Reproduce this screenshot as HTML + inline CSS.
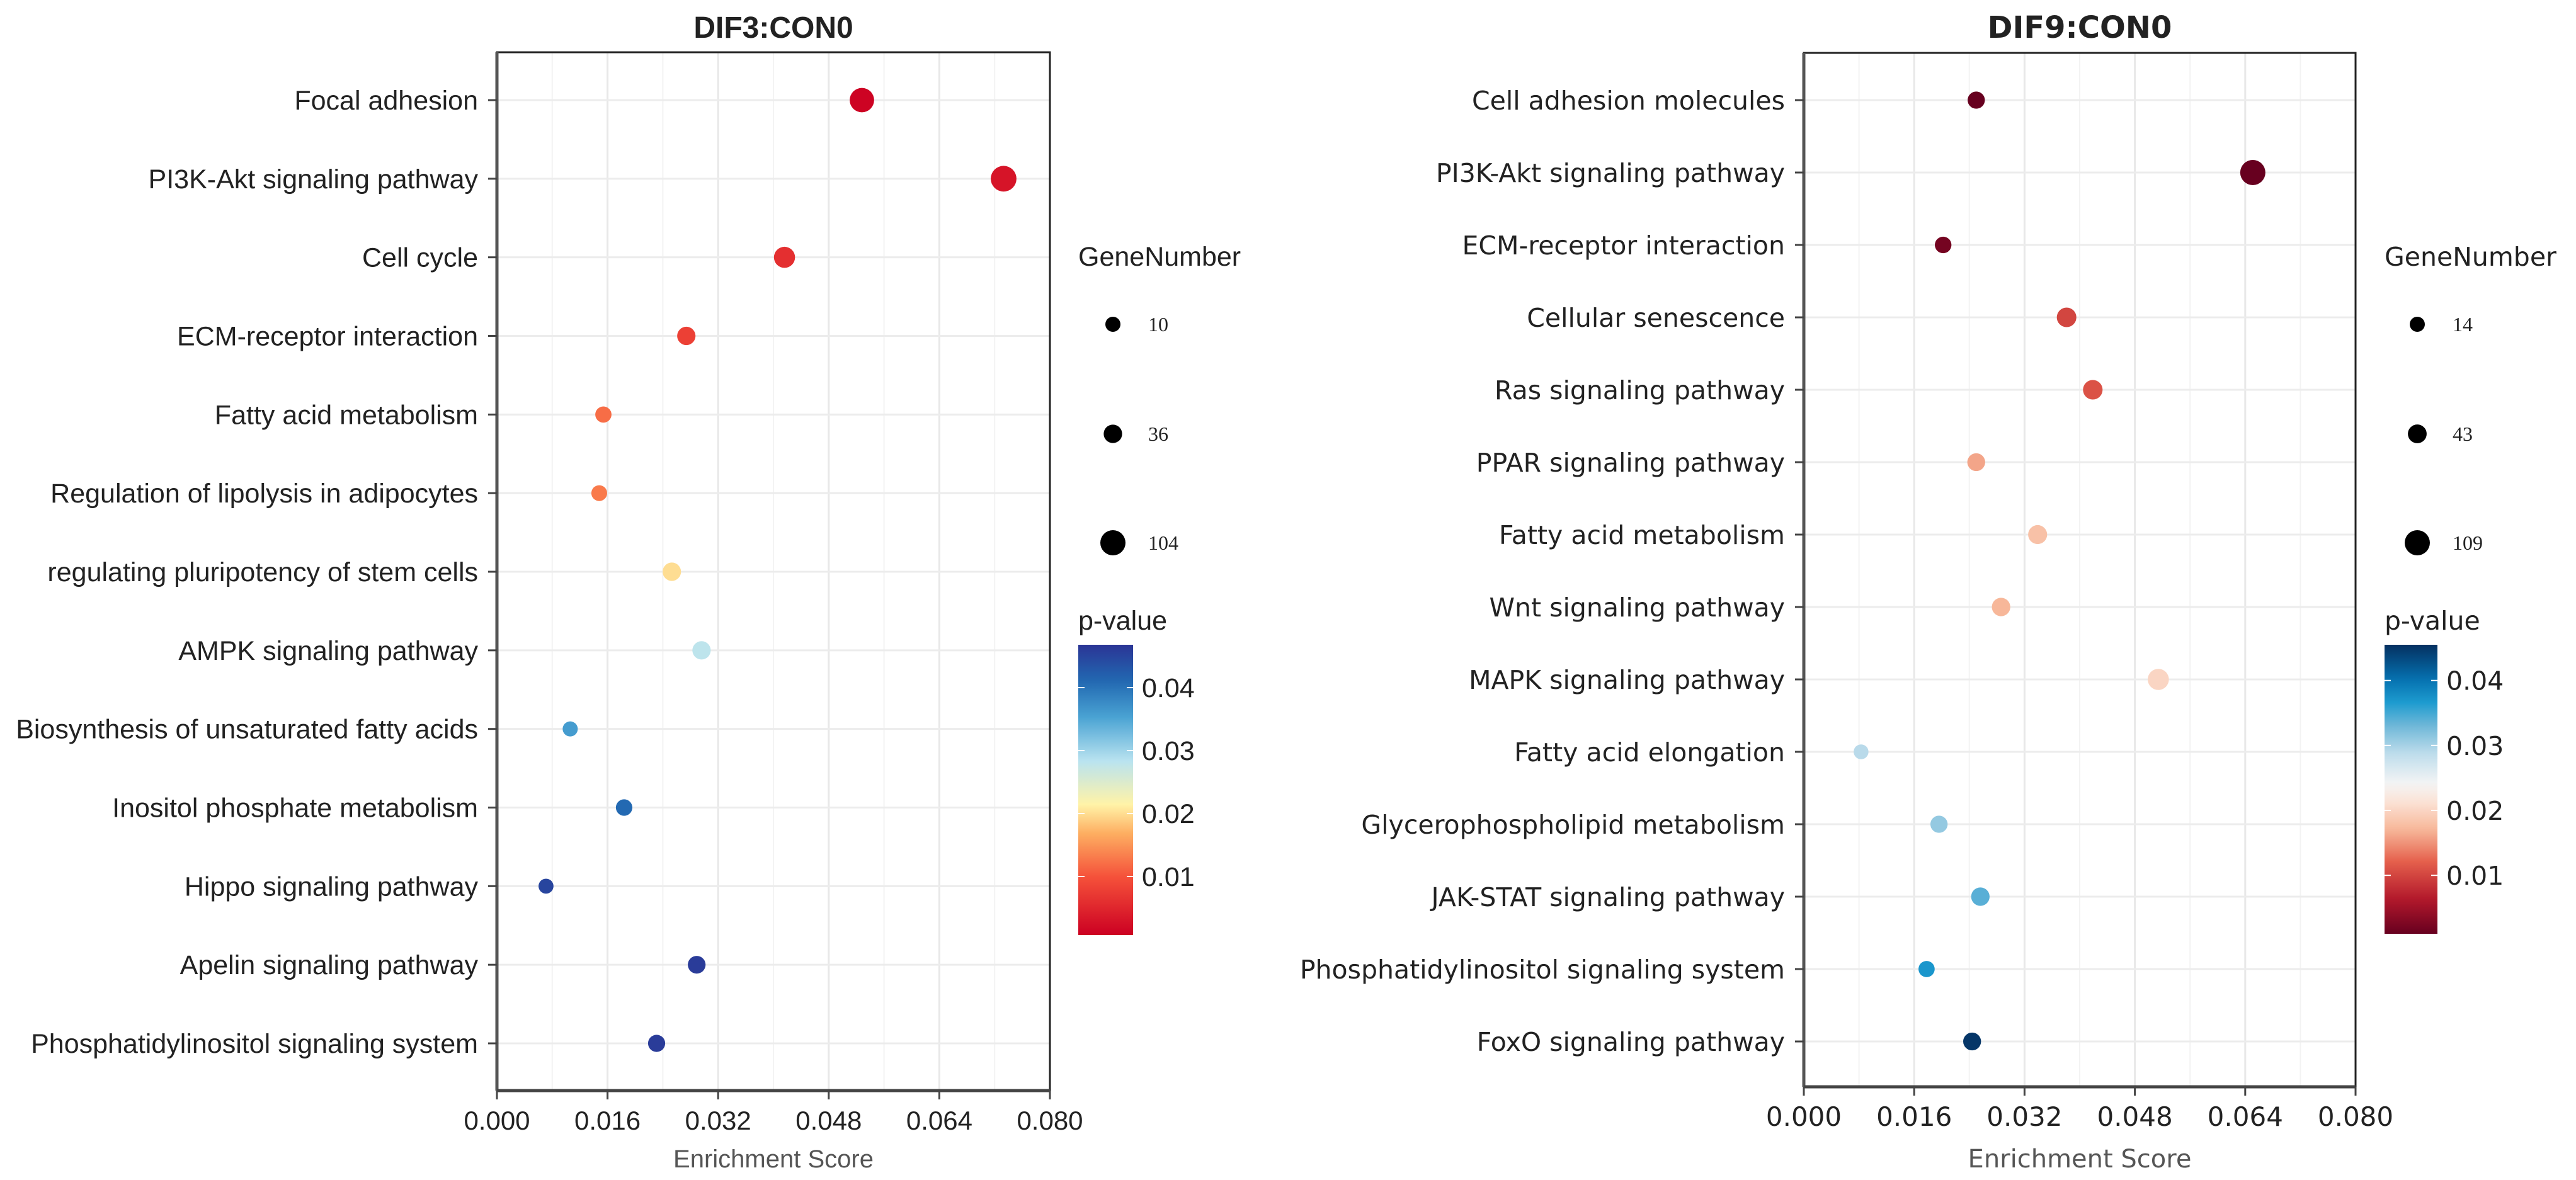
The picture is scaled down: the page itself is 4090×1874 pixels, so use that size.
<!DOCTYPE html>
<html><head><meta charset="utf-8"><style>
html,body{margin:0;padding:0;background:#fff;}
svg{display:block;}
</style></head><body>
<svg id="chart" width="4090" height="1874" viewBox="0 0 4090 1874" xmlns="http://www.w3.org/2000/svg"></svg>
<script>
// ---- Left panel data (DIF3:CON0) ----
const leftCategories = ["Focal adhesion","PI3K-Akt signaling pathway","Cell cycle","ECM-receptor interaction","Fatty acid metabolism","Regulation of lipolysis in adipocytes","regulating pluripotency of stem cells","AMPK signaling pathway","Biosynthesis of unsaturated fatty acids","Inositol phosphate metabolism","Hippo signaling pathway","Apelin signaling pathway","Phosphatidylinositol signaling system"];
const leftScores = [0.0528,0.0733,0.0416,0.0274,0.0154,0.0148,0.0253,0.0296,0.0106,0.0184,0.0071,0.0289,0.0231];
const leftGenes = [95,110,60,35,18,15,35,35,10,20,9,30,25];
const leftPvals = [0.001,0.003,0.006,0.008,0.012,0.013,0.020,0.028,0.036,0.041,0.045,0.046,0.046];
const leftSizeLegend = [10,36,104];
const leftPTicks = [0.01,0.02,0.03,0.04];
// ---- Right panel data (DIF9:CON0) ----
const rightCategories = ["Cell adhesion molecules","PI3K-Akt signaling pathway","ECM-receptor interaction","Cellular senescence","Ras signaling pathway","PPAR signaling pathway","Fatty acid metabolism","Wnt signaling pathway","MAPK signaling pathway","Fatty acid elongation","Glycerophospholipid metabolism","JAK-STAT signaling pathway","Phosphatidylinositol signaling system","FoxO signaling pathway"];
const rightScores = [0.0250,0.0651,0.0202,0.0381,0.0419,0.0250,0.0339,0.0286,0.0514,0.0083,0.0196,0.0256,0.0178,0.0244];
const rightGenes = [30,109,25,50,50,35,45,40,65,12,30,40,22,35];
const rightPvals = [0.001,0.001,0.002,0.010,0.011,0.016,0.018,0.017,0.020,0.029,0.031,0.034,0.037,0.045];
const rightSizeLegend = [14,43,109];
const rightPTicks = [0.01,0.02,0.03,0.04];
const xTicks = [0,0.016,0.032,0.048,0.064,0.08];
const xTickLabels = ["0.000","0.016","0.032","0.048","0.064","0.080"];

const NS="http://www.w3.org/2000/svg";
const svg=document.getElementById('chart');
function mk(tag,attrs,parent,text){const e=document.createElementNS(NS,tag);for(const k in attrs)e.setAttribute(k,attrs[k]);if(text!==undefined)e.textContent=text;(parent||svg).appendChild(e);return e;}
function hex(h){return [parseInt(h.substr(1,2),16),parseInt(h.substr(3,2),16),parseInt(h.substr(5,2),16)];}
function interp(stops,t){t=Math.max(0,Math.min(1,t));for(let i=0;i<stops.length-1;i++){if(t<=stops[i+1][0]){const f=(t-stops[i][0])/(stops[i+1][0]-stops[i][0]);const a=hex(stops[i][1]),b=hex(stops[i+1][1]);return 'rgb('+a.map((v,j)=>Math.round(v+(b[j]-v)*f)).join(',')+')';}}return stops[stops.length-1][1];}
const leftStops=[[0,"#cc0022"],[0.2,"#f5513a"],[0.35,"#fdae61"],[0.45,"#fff3a8"],[0.6,"#b9e3f0"],[0.75,"#4aa3d3"],[0.88,"#2166b0"],[1,"#2b3595"]];
const rightStops=[[0,"#67001f"],[0.12,"#b2182b"],[0.25,"#e5604c"],[0.36,"#f7b799"],[0.46,"#fbe4d8"],[0.52,"#f4f4f4"],[0.62,"#c0deec"],[0.72,"#6fb7d8"],[0.8,"#1d9bcf"],[0.88,"#0571b0"],[1,"#053061"]];

function panel(o){
  const g=mk('g',{});
  
  
  const x=v=>o.x0+(v-0)/(0.08)*(o.x1-o.x0);
  const n=o.cats.length;
  const y=i=>o.yFirst+i*(o.yLast-o.yFirst)/(n-1);
  const rad=(gn)=>Math.sqrt(144+(400-144)*(gn-o.sizeLegend[0])/(o.sizeLegend[2]-o.sizeLegend[0]));
  const col=p=>interp(o.stops,(p-o.pmin)/(o.pmax-o.pmin));
  const t=mk('text',{x:(o.x0+o.x1)/2,y:60,'text-anchor':'middle','font-family':o.font,'font-weight':'bold','font-size':48,fill:'#222'},g,o.title);
  
  for(let i=0;i<xTicks.length-1;i++){const m=(xTicks[i]+xTicks[i+1])/2;mk('line',{x1:x(m),x2:x(m),y1:o.y0,y2:o.y1,stroke:'#f3f3f3','stroke-width':2},g);}
  xTicks.forEach(v=>mk('line',{x1:x(v),x2:x(v),y1:o.y0,y2:o.y1,stroke:'#e8e8e8','stroke-width':3},g));
  o.cats.forEach((c,i)=>mk('line',{x1:o.x0,x2:o.x1,y1:y(i),y2:y(i),stroke:'#ececec','stroke-width':3},g));
  mk('rect',{x:o.x0,y:o.y0,width:o.x1-o.x0,height:o.y1-o.y0,fill:'none',stroke:'#222','stroke-width':3},g);
  mk('line',{x1:o.x0,x2:o.x0,y1:o.y0,y2:o.y1,stroke:'#555','stroke-width':5},g);
  mk('line',{x1:o.x0,x2:o.x1,y1:o.y1,y2:o.y1,stroke:'#444','stroke-width':5},g);
  o.cats.forEach((c,i)=>{
    mk('line',{x1:o.x0-14,x2:o.x0,y1:y(i),y2:y(i),stroke:'#444','stroke-width':3},g);
    const l=mk('text',{x:o.x0-30,y:y(i)+15,'text-anchor':'end','font-family':o.font,'font-size':o.fs,fill:'#222'},g,c);
    
  });
  xTicks.forEach((v,i)=>{
    mk('line',{x1:x(v),x2:x(v),y1:o.y1,y2:o.y1+14,stroke:'#444','stroke-width':3},g);
    const l=mk('text',{x:x(v),y:o.y1+62,'text-anchor':'middle','font-family':o.font,'font-size':42,fill:'#222'},g,xTickLabels[i]);
    
  });
  const at=mk('text',{x:(o.x0+o.x1)/2,y:1854,'text-anchor':'middle','font-family':o.font,'font-size':40,fill:'#555'},g,'Enrichment Score');
  
  o.cats.forEach((c,i)=>{
    const p=mk('circle',{cx:x(o.scores[i]),cy:y(i),r:rad(o.genes[i]),fill:col(o.pvals[i])},g);
    
  });
  const lg=mk('text',{x:o.lx,y:422,'font-family':o.font,'font-size':o.lfs,fill:'#222'},g,'GeneNumber');
  
  [515,689,862].forEach((yy,i)=>{
    const c=mk('circle',{cx:o.ldx,cy:yy,r:rad(o.sizeLegend[i]),fill:'#000'},g);
    
    const l=mk('text',{x:o.ldx+56,y:yy+11,'font-family':'Liberation Serif, serif','font-size':32,fill:'#222'},g,String(o.sizeLegend[i]));
    
  });
  const pt=mk('text',{x:o.lx,y:1000,'font-family':o.font,'font-size':o.lfs,fill:'#222'},g,'p-value');
  
  const gid='grad'+o.name;
  const defs=mk('defs',{},g);const lgd=mk('linearGradient',{id:gid,x1:0,y1:1,x2:0,y2:0},defs);
  for(let k=0;k<=40;k++){const t=k/40;mk('stop',{offset:t,'stop-color':interp(o.stops,t)},lgd);}
  const cb=mk('rect',{x:o.lx,y:o.cbTop,width:o.cbW,height:o.cbBot-o.cbTop,fill:'url(#'+gid+')'},g);
  
  const cy=p=>o.cbBot-(p-o.pmin)/(o.pmax-o.pmin)*(o.cbBot-o.cbTop);
  o.pticks.forEach(p=>{
    mk('line',{x1:o.lx,x2:o.lx+10,y1:cy(p),y2:cy(p),stroke:'#fff','stroke-width':2},g);
    mk('line',{x1:o.lx+o.cbW-10,x2:o.lx+o.cbW,y1:cy(p),y2:cy(p),stroke:'#fff','stroke-width':2},g);
    const l=mk('text',{x:o.lx+o.cbW+14,y:cy(p)+15,'font-family':o.font,'font-size':o.lfs,fill:'#222'},g,p.toFixed(2));
    
  });
}
panel({name:'left-panel',title:'DIF3:CON0',font:'"Liberation Sans", sans-serif',fs:43,lfs:43,cats:leftCategories,scores:leftScores,genes:leftGenes,pvals:leftPvals,sizeLegend:leftSizeLegend,pticks:leftPTicks,stops:leftStops,x0:789,x1:1667,y0:83,y1:1732,yFirst:159,yLast:1657,pmin:0.0007,pmax:0.0468,lx:1712,ldx:1767,cbTop:1024,cbBot:1485,cbW:87});
panel({name:'right-panel',title:'DIF9:CON0',font:'"DejaVu Sans", sans-serif',fs:41,lfs:41,cats:rightCategories,scores:rightScores,genes:rightGenes,pvals:rightPvals,sizeLegend:rightSizeLegend,pticks:rightPTicks,stops:rightStops,x0:2864,x1:3740,y0:84,y1:1726,yFirst:159,yLast:1654,pmin:0.001,pmax:0.0455,lx:3786,ldx:3838,cbTop:1024,cbBot:1483,cbW:84});
</script>
</body></html>
